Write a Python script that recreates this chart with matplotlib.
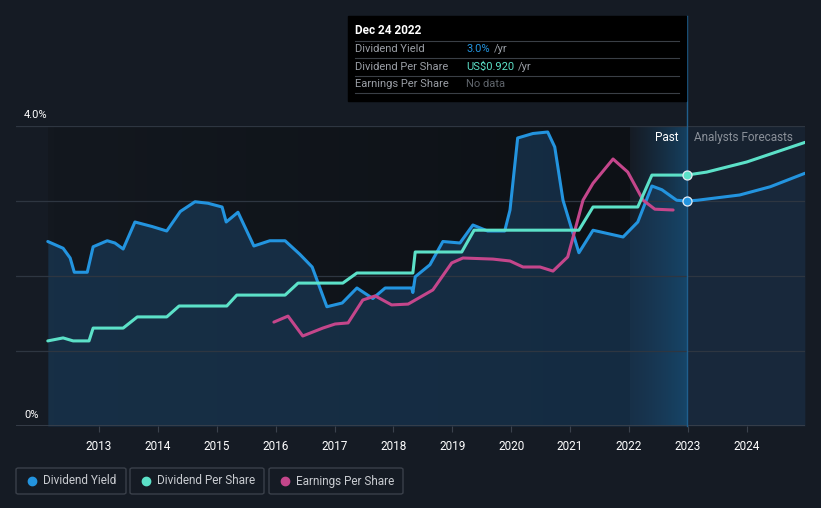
import matplotlib.pyplot as plt
import numpy as np
from matplotlib.patches import Rectangle, FancyBboxPatch
from matplotlib.colors import LinearSegmentedColormap

plt.rcParams['font.family'] = ['Roboto', 'DejaVu Sans']

# Dividend yield (%) - past
dy_years = [2012.13, 2012.39, 2012.51, 2012.58, 2012.80, 2012.90, 2013.14, 2013.27, 2013.41,
            2013.61, 2013.90, 2014.15, 2014.38, 2014.63, 2014.85, 2015.09, 2015.16, 2015.36,
            2015.63, 2015.90, 2016.16, 2016.41, 2016.62, 2016.87, 2017.13, 2017.38, 2017.65,
            2017.86, 2018.31, 2018.33, 2018.37, 2018.62, 2018.84, 2019.13, 2019.35, 2019.60,
            2019.89, 2019.98, 2020.11, 2020.37, 2020.62, 2020.74, 2020.88, 2021.15, 2021.39,
            2021.90, 2022.15, 2022.39, 2022.56, 2022.81, 2022.98]
dy_vals = [2.46, 2.37, 2.24, 2.05, 2.05, 2.39, 2.47, 2.44, 2.36,
           2.72, 2.66, 2.60, 2.86, 2.99, 2.97, 2.92, 2.72, 2.85,
           2.40, 2.47, 2.47, 2.29, 2.12, 1.59, 1.64, 1.84, 1.70,
           1.84, 1.84, 1.78, 1.99, 2.15, 2.46, 2.44, 2.68, 2.60,
           2.60, 2.88, 3.84, 3.90, 3.92, 3.72, 3.01, 2.31, 2.61,
           2.52, 2.72, 3.20, 3.15, 3.01, 3.00]
# Dividend yield (%) - analyst forecast
dyf_years = [2022.98, 2023.16, 2023.88, 2024.40, 2024.99]
dyf_vals = [3.00, 3.01, 3.08, 3.19, 3.37]

# Dividend per share (US$)
dps_years = [2012.13, 2012.39, 2012.56, 2012.83, 2012.90, 2013.41, 2013.65, 2014.15, 2014.36,
             2015.17, 2015.34, 2016.16, 2016.38, 2017.14, 2017.38, 2018.33, 2018.37, 2019.16,
             2019.37, 2021.15, 2021.39, 2022.15, 2022.39, 2022.98]
dps_vals = [0.312, 0.323, 0.312, 0.312, 0.359, 0.359, 0.40, 0.40, 0.44,
            0.44, 0.48, 0.48, 0.524, 0.524, 0.561, 0.561, 0.638, 0.638,
            0.718, 0.718, 0.803, 0.803, 0.92, 0.92]
dpsf_years = [2022.98, 2023.32, 2024.00, 2024.99]
dpsf_vals = [0.92, 0.931, 0.968, 1.04]

# Earnings per share (US$)
eps_years = [2015.97, 2016.21, 2016.46, 2016.80, 2017.01, 2017.23, 2017.48, 2017.69, 2017.97,
             2018.25, 2018.67, 2018.99, 2019.18, 2019.69, 2019.98, 2020.20, 2020.49, 2020.71,
             2020.96, 2021.22, 2021.39, 2021.73, 2021.98, 2022.24, 2022.44, 2022.75]
eps_vals = [0.381, 0.403, 0.330, 0.359, 0.374, 0.378, 0.462, 0.477, 0.444,
            0.447, 0.499, 0.598, 0.616, 0.612, 0.605, 0.583, 0.583, 0.568,
            0.620, 0.828, 0.890, 0.979, 0.931, 0.828, 0.795, 0.792]

tick_years = list(range(2013, 2025))

BG = '#151b24'
BLUE = '#2394df'
TEAL = '#5ce1c8'
PINK = '#c4468b'
X0, X1 = 2011.59, 2024.99

fig = plt.figure(figsize=(8.21, 5.08), dpi=100, facecolor=BG)
ax = fig.add_axes([16 / 821, 82 / 508, 789 / 821, 300 / 508])
ax.set_facecolor(BG)

# darker "past" background
dark = LinearSegmentedColormap.from_list('d', ['#13181f', '#0d1116'])
ax.imshow(np.linspace(0, 1, 100).reshape(1, -1), cmap=dark, aspect='auto',
          extent=[dy_years[0], 2022.0, 0, 4], zorder=0)
# forecast area background
ax.axvspan(2022.98, X1, color='#172230', zorder=0, lw=0)
# fill under dividend yield
ax.fill_between(dy_years, dy_vals, 0, color='#1b4266', alpha=0.55, lw=0, zorder=1)
ax.fill_between(dyf_years, dyf_vals, 0, color='#1b3550', alpha=0.35, lw=0, zorder=1)
# highlighted band 2022-2023
band = LinearSegmentedColormap.from_list('b', [(0.09, 0.25, 0.38, 0.0), (0.09, 0.3, 0.45, 0.75)])
ax.imshow(np.linspace(0, 1, 100).reshape(1, -1), cmap=band, aspect='auto',
          extent=[2022.0, 2022.98, 0, 4], zorder=1)
ax.set_xlim(X0, X1)
ax.set_ylim(0, 4)

for g in [1, 2, 3, 4]:
    ax.axhline(g, color='#2e3641', lw=0.9, zorder=2)
ax.axhline(0, color='#3b424d', lw=1.2, zorder=2)
# vertical marker line at the tooltip date
ax.axvline(2022.98, ymin=0, ymax=410 / 300, color='#1f5f8e', lw=1, zorder=3, clip_on=False)

kw = dict(lw=2.2, solid_joinstyle='round', solid_capstyle='round')
ax.plot(dy_years, dy_vals, color=BLUE, zorder=4, **kw)
ax.plot(dyf_years, dyf_vals, color=BLUE, zorder=4, **kw)
ax.plot([dyf_years[0]], [dyf_vals[0]], 'o', ms=6.5, color=BLUE, mec='#e8eef5', mew=0.9, zorder=8)

ax2 = ax.twinx()
ax2.set_ylim(0, 1.1)
ax2.axis('off')
ax2.plot(dps_years, dps_vals, color=TEAL, zorder=4, **kw)
ax2.plot(dpsf_years, dpsf_vals, color=TEAL, zorder=4, **kw)
ax2.plot(eps_years, eps_vals, color=PINK, zorder=3, **kw)
ax2.plot([dpsf_years[0]], [dpsf_vals[0]], 'o', ms=6.5, color=TEAL, mec='#e8eef5', mew=0.9, zorder=8)

for s in ax.spines.values():
    s.set_visible(False)
ax.set_yticks([])
ax.set_xticks(tick_years)
ax.set_xticklabels([str(y) for y in tick_years], color='white', fontsize=8.5)
ax.tick_params(axis='x', length=4, color='#3b424d', pad=6)

ax.text(0.01, 4.08, '4.0%', color='white', fontsize=8, transform=ax.get_yaxis_transform(), va='bottom')
ax.text(0.01, 0.08, '0%', color='white', fontsize=8, transform=ax.get_yaxis_transform(), va='bottom')
ax.text(2022.84, 3.85, 'Past', color='white', fontsize=8.5, ha='right', va='center')
ax.text(2023.1, 3.85, 'Analysts Forecasts', color='#8a9099', fontsize=8.5, ha='left', va='center')

# tooltip
fig.add_artist(Rectangle((348 / 821, 1 - 101 / 508), 338 / 821, 85 / 508, color='black', zorder=10))
fig.text(355 / 821, 1 - 31 / 508, 'Dec 24 2022', color='white', fontsize=8.5, fontweight='bold',
         va='center', zorder=11)
rows = [('Dividend Yield', '3.0%', BLUE), ('Dividend Per Share', 'US$0.920', TEAL),
        ('Earnings Per Share', None, None)]
for i, (lab, val, c) in enumerate(rows):
    yy = 49 + i * 17.5
    fig.add_artist(plt.Line2D([355 / 821, 679 / 821], [1 - (yy - 8.5) / 508] * 2, color='#3a3f46', lw=0.8, zorder=11))
    fig.text(355 / 821, 1 - yy / 508, lab, color='#9a9ea5', fontsize=8, va='center', zorder=11)
    if val:
        t = fig.text(466 / 821, 1 - yy / 508, val, color=c, fontsize=8, va='center', zorder=11)
        fig.canvas.draw()
        bb = t.get_window_extent()
        fig.text(bb.x1 / 821 + 4 / 821, 1 - yy / 508, '/yr', color='#9a9ea5', fontsize=8, va='center', zorder=11)
    else:
        fig.text(466 / 821, 1 - yy / 508, 'No data', color='#5f646b', fontsize=8, va='center', zorder=11)
fig.add_artist(plt.Line2D([355 / 821, 679 / 821], [1 - 93 / 508] * 2, color='#3a3f46', lw=0.8, zorder=11))

# legend boxes
legend = [('Dividend Yield', BLUE, 16, 126), ('Dividend Per Share', TEAL, 130, 264),
          ('Earnings Per Share', PINK, 269, 403)]
for lab, c, xa, xb in legend:
    fig.add_artist(FancyBboxPatch((xa / 821, 1 - 494 / 508), (xb - xa) / 821, 26 / 508,
                                  boxstyle='round,pad=0,rounding_size=0.003', fc='none',
                                  ec='#3a404a', lw=1))
    fig.add_artist(plt.Line2D([(xa + 16) / 821], [1 - 481 / 508], marker='o', ms=6, color=c, lw=0))
    fig.text((xa + 27) / 821, 1 - 481 / 508, lab, color='#c9ccd1', fontsize=8.5, va='center')

fig.savefig('out.png', dpi=100, facecolor=BG)
